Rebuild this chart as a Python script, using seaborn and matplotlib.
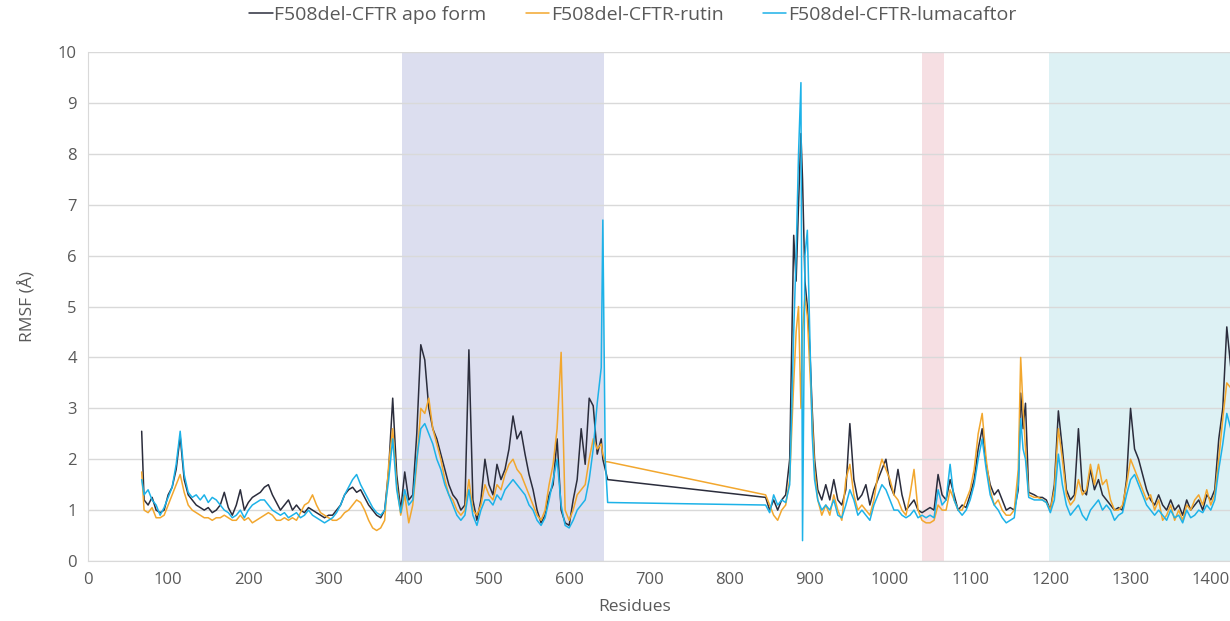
import pandas as pd
import seaborn as sns
import matplotlib.pyplot as plt

# residue numbers (two modelled segments, the gap in between is drawn as a straight join)
residues = [
    67, 70, 75, 80, 85, 90, 95, 100, 105, 110, 115, 120, 125, 130, 135, 140, 145, 150,
    155, 160, 165, 170, 175, 180, 185, 190, 195, 200, 205, 210, 215, 220, 225, 230,
    235, 240, 245, 250, 255, 260, 265, 270, 275, 280, 285, 290, 295, 300, 305, 310,
    315, 320, 325, 330, 335, 340, 345, 350, 355, 360, 365, 370, 375, 380, 385, 390,
    395, 400, 405, 410, 415, 420, 425, 430, 435, 440, 445, 450, 455, 460, 465, 470,
    475, 480, 485, 490, 495, 500, 505, 510, 515, 520, 525, 530, 535, 540, 545, 550,
    555, 560, 565, 570, 575, 580, 585, 590, 595, 600, 605, 610, 615, 620, 625, 630,
    635, 640, 642, 645, 648,
    845, 850, 855, 860, 865, 870, 875, 880, 883, 886, 889, 891, 894, 897, 900, 903,
    906, 910, 915, 920, 925, 930, 935, 940, 945, 950, 955, 960, 965, 970, 975, 980,
    985, 990, 995, 1000, 1005, 1010, 1015, 1020, 1025, 1030, 1035, 1040, 1045, 1050,
    1055, 1060, 1065, 1070, 1075, 1080, 1085, 1090, 1095, 1100, 1105, 1110, 1115,
    1120, 1125, 1130, 1135, 1140, 1145, 1150, 1155, 1160, 1163, 1166, 1169, 1173,
    1180, 1185, 1190, 1195, 1200, 1205, 1210, 1215, 1220, 1225, 1230, 1235, 1240,
    1245, 1250, 1255, 1260, 1265, 1270, 1275, 1280, 1285, 1290, 1295, 1300, 1305,
    1310, 1315, 1320, 1325, 1330, 1335, 1340, 1345, 1350, 1355, 1360, 1365, 1370,
    1375, 1380, 1385, 1390, 1395, 1400, 1405, 1410, 1415, 1420, 1425,
]

rmsf_apo = [
    2.55, 1.2, 1.1, 1.25, 1.0, 0.95, 1.0, 1.3, 1.45, 1.8, 2.45, 1.6, 1.3, 1.2, 1.1, 1.05, 1.0, 1.05,
    0.95, 1.0, 1.1, 1.35, 1.05, 0.9, 1.1, 1.4, 1.0, 1.15, 1.25, 1.3, 1.35, 1.45, 1.5, 1.3,
    1.15, 1.0, 1.1, 1.2, 1.0, 1.1, 1.0, 0.95, 1.05, 1.0, 0.95, 0.9, 0.85, 0.9, 0.9, 1.0,
    1.1, 1.3, 1.4, 1.45, 1.35, 1.4, 1.25, 1.1, 1.0, 0.9, 0.85, 1.0, 1.8, 3.2, 1.7, 1.0,
    1.75, 1.2, 1.3, 2.5, 4.25, 3.95, 3.0, 2.6, 2.4, 2.1, 1.8, 1.5, 1.3, 1.2, 1.0, 1.1,
    4.15, 1.2, 0.8, 1.2, 2.0, 1.5, 1.3, 1.9, 1.6, 1.8, 2.2, 2.85, 2.4, 2.55, 2.1, 1.7,
    1.4, 1.0, 0.75, 0.9, 1.3, 1.5, 2.4, 1.0, 0.75, 0.7, 1.2, 1.6, 2.6, 1.9, 3.2, 3.05,
    2.1, 2.4, 2.0, 1.8, 1.6,
    1.25, 1.0, 1.2, 1.0, 1.2, 1.3, 2.0, 6.4, 5.5, 7.0, 8.4, 7.5, 5.5, 5.0, 4.2, 3.0,
    2.0, 1.4, 1.2, 1.5, 1.2, 1.6, 1.2, 1.1, 1.4, 2.7, 1.6, 1.2, 1.3, 1.5, 1.1, 1.4,
    1.6, 1.8, 2.0, 1.5, 1.3, 1.8, 1.3, 1.0, 1.1, 1.2, 1.0, 0.95, 1.0, 1.05,
    1.0, 1.7, 1.3, 1.2, 1.6, 1.3, 1.0, 1.1, 1.05, 1.3, 1.6, 2.2, 2.6,
    1.9, 1.5, 1.3, 1.4, 1.2, 1.0, 1.05, 1.0, 1.4, 3.3, 2.6, 3.1, 1.35,
    1.3, 1.25, 1.25, 1.2, 1.0, 1.5, 2.95, 2.2, 1.4, 1.2, 1.3, 2.6, 1.4,
    1.3, 1.8, 1.4, 1.6, 1.3, 1.2, 1.1, 1.0, 1.05, 1.0, 1.6, 3.0, 2.2,
    2.0, 1.7, 1.4, 1.2, 1.1, 1.3, 1.1, 1.0, 1.2, 1.0, 1.1, 0.9, 1.2,
    1.0, 1.1, 1.2, 1.0, 1.3, 1.2, 1.4, 2.4, 3.0, 4.6, 3.8,
]

rmsf_rutin = [
    1.75, 1.0, 0.95, 1.05, 0.85, 0.85, 0.9, 1.1, 1.3, 1.5, 1.7, 1.35, 1.1, 1.0, 0.95, 0.9, 0.85, 0.85,
    0.8, 0.85, 0.85, 0.9, 0.85, 0.8, 0.8, 0.9, 0.8, 0.85, 0.75, 0.8, 0.85, 0.9, 0.95, 0.9,
    0.8, 0.8, 0.85, 0.8, 0.85, 0.8, 0.95, 1.1, 1.15, 1.3, 1.1, 0.95, 0.9, 0.85, 0.8, 0.8,
    0.85, 0.95, 1.0, 1.1, 1.2, 1.15, 1.0, 0.8, 0.65, 0.6, 0.65, 0.8, 1.9, 2.6, 1.5, 0.9,
    1.3, 0.75, 1.1, 1.9, 3.0, 2.9, 3.2, 2.6, 2.3, 2.0, 1.6, 1.3, 1.2, 1.0, 0.9, 1.0,
    1.6, 1.0, 0.9, 1.1, 1.5, 1.3, 1.2, 1.5, 1.4, 1.7, 1.9, 2.0, 1.8, 1.7, 1.5, 1.3,
    1.1, 0.9, 0.8, 1.0, 1.5, 1.9, 2.6, 4.1, 1.0, 0.8, 1.0, 1.3, 1.4, 1.5, 2.0, 2.4,
    2.2, 2.3, 2.1, 1.95, 1.95,
    1.3, 1.1, 0.9, 0.8, 1.0, 1.1, 1.6, 3.5, 4.5, 5.0, 3.0, 4.5, 5.2, 4.8, 3.8, 2.8,
    1.8, 1.2, 0.9, 1.1, 0.9, 1.3, 1.0, 0.8, 1.6, 1.9, 1.3, 1.0, 1.1, 1.0, 0.9, 1.2,
    1.7, 2.0, 1.8, 1.6, 1.3, 1.2, 1.0, 0.9, 1.3, 1.8, 1.0, 0.8, 0.75, 0.75,
    0.8, 1.1, 1.0, 1.0, 1.4, 1.2, 1.0, 1.0, 1.2, 1.4, 1.8, 2.5, 2.9,
    2.0, 1.4, 1.1, 1.2, 1.0, 0.9, 0.9, 1.0, 1.8, 4.0, 3.0, 2.2, 1.3,
    1.25, 1.25, 1.2, 1.15, 1.0, 1.4, 2.6, 2.0, 1.3, 1.1, 1.2, 1.6, 1.3,
    1.4, 1.9, 1.5, 1.9, 1.5, 1.6, 1.2, 1.0, 1.0, 1.1, 1.5, 2.0, 1.8,
    1.6, 1.4, 1.2, 1.3, 1.0, 1.2, 0.8, 0.9, 1.1, 0.8, 1.0, 0.8, 1.1,
    1.0, 1.2, 1.3, 1.1, 1.4, 1.1, 1.3, 2.0, 2.8, 3.5, 3.4,
]

rmsf_lumacaftor = [
    1.6, 1.3, 1.4, 1.2, 1.1, 0.9, 1.05, 1.25, 1.45, 1.9, 2.55, 1.7, 1.35, 1.25, 1.3, 1.2, 1.3, 1.15,
    1.25, 1.2, 1.1, 1.0, 0.95, 0.85, 0.9, 1.0, 0.85, 1.0, 1.1, 1.15, 1.2, 1.2, 1.1, 1.0,
    0.95, 0.9, 0.95, 0.85, 0.9, 0.95, 0.85, 0.9, 1.0, 0.9, 0.85, 0.8, 0.75, 0.8, 0.85, 0.95,
    1.1, 1.3, 1.45, 1.6, 1.7, 1.5, 1.35, 1.2, 1.05, 0.95, 0.9, 1.0, 1.6, 2.4, 1.4, 0.95,
    1.4, 1.1, 1.2, 2.0, 2.6, 2.7, 2.5, 2.3, 2.0, 1.8, 1.5, 1.3, 1.1, 0.9, 0.8, 0.9,
    1.4, 0.9, 0.7, 1.0, 1.2, 1.2, 1.1, 1.3, 1.2, 1.4, 1.5, 1.6, 1.5, 1.4, 1.3, 1.1,
    1.0, 0.8, 0.7, 0.85, 1.2, 1.6, 2.0, 1.1, 0.7, 0.65, 0.8, 1.0, 1.1, 1.2, 1.6, 2.2,
    3.1, 3.8, 6.7, 2.0, 1.15,
    1.1, 0.95, 1.3, 1.1, 1.2, 1.15, 1.5, 4.5, 6.0, 8.0, 9.4, 0.4, 6.0, 6.5, 4.5, 2.5,
    1.6, 1.2, 1.0, 1.1, 1.0, 1.2, 0.9, 0.85, 1.1, 1.4, 1.2, 0.9, 1.0, 0.9, 0.8, 1.1,
    1.3, 1.5, 1.4, 1.2, 1.0, 1.0, 0.9, 0.85, 0.9, 1.0, 0.85, 0.9, 0.85, 0.9,
    0.85, 1.4, 1.1, 1.2, 1.9, 1.2, 1.0, 0.9, 1.0, 1.2, 1.5, 2.0, 2.4,
    1.8, 1.3, 1.1, 1.0, 0.85, 0.75, 0.8, 0.85, 1.5, 2.8, 2.2, 2.0, 1.25,
    1.2, 1.2, 1.2, 1.15, 0.95, 1.2, 2.1, 1.5, 1.1, 0.9, 1.0, 1.1, 0.9,
    0.8, 1.0, 1.1, 1.2, 1.0, 1.1, 1.0, 0.8, 0.9, 0.95, 1.3, 1.6, 1.7,
    1.5, 1.3, 1.1, 1.0, 0.9, 1.0, 0.9, 0.8, 1.0, 0.85, 0.9, 0.75, 1.0,
    0.85, 0.9, 1.0, 0.95, 1.1, 1.0, 1.2, 1.8, 2.3, 2.9, 2.6,
]

series_names = ["F508del-CFTR apo form", "F508del-CFTR-rutin", "F508del-CFTR-lumacaftor"]
series_colors = ["#2b2d3c", "#f2a72e", "#1db2e8"]

# domain shading (residue ranges)
span_starts = [391, 1040, 1198]
span_ends = [644, 1067, 1430]
span_colors = ["#dcdeef", "#f6dfe3", "#ddf1f4"]

df = pd.concat([
    pd.DataFrame({"Residues": residues, "RMSF": vals, "series": name})
    for name, vals in zip(series_names, [rmsf_apo, rmsf_rutin, rmsf_lumacaftor])
])

sns.set_style("white")
plt.rcParams["font.family"] = ["Open Sans", "DejaVu Sans"]

fig = plt.figure(figsize=(12.3, 6.21), dpi=100)
ax = fig.add_axes([0.0715, 0.0966, 0.9285, 0.8195])

for s, e, c in zip(span_starts, span_ends, span_colors):
    ax.axvspan(s, e, color=c, lw=0, zorder=0)

sns.lineplot(data=df, x="Residues", y="RMSF", hue="series", palette=dict(zip(series_names, series_colors)),
             hue_order=series_names, linewidth=1.1, estimator=None, ax=ax, zorder=2)

ax.set_xlim(0, 1424)
ax.set_ylim(0, 10)
ax.set_xticks(range(0, 1401, 100))
ax.set_yticks(range(0, 11))
ax.yaxis.grid(True, color="#d9d9d9", linewidth=1.0, zorder=1)
ax.set_axisbelow(True)
for side in ["top", "right"]:
    ax.spines[side].set_visible(False)
for side in ["left", "bottom"]:
    ax.spines[side].set_color("#d9d9d9")
ax.tick_params(axis="both", length=0, labelsize=12, labelcolor="#595959", pad=8)
ax.set_xlabel("Residues", fontsize=12.5, color="#595959")
ax.xaxis.set_label_coords(0.479, -0.075)
ax.set_ylabel("RMSF (Å)", fontsize=12.5, color="#595959")
ax.yaxis.set_label_coords(-0.045, 0.5)

ax.legend(loc="upper center", bbox_to_anchor=(0.477, 1.125), ncol=3, frameon=False,
          fontsize=14, labelcolor="#595959", handlelength=1.2, handletextpad=0.1, columnspacing=2.0)

fig.savefig("out.png", dpi=100)
